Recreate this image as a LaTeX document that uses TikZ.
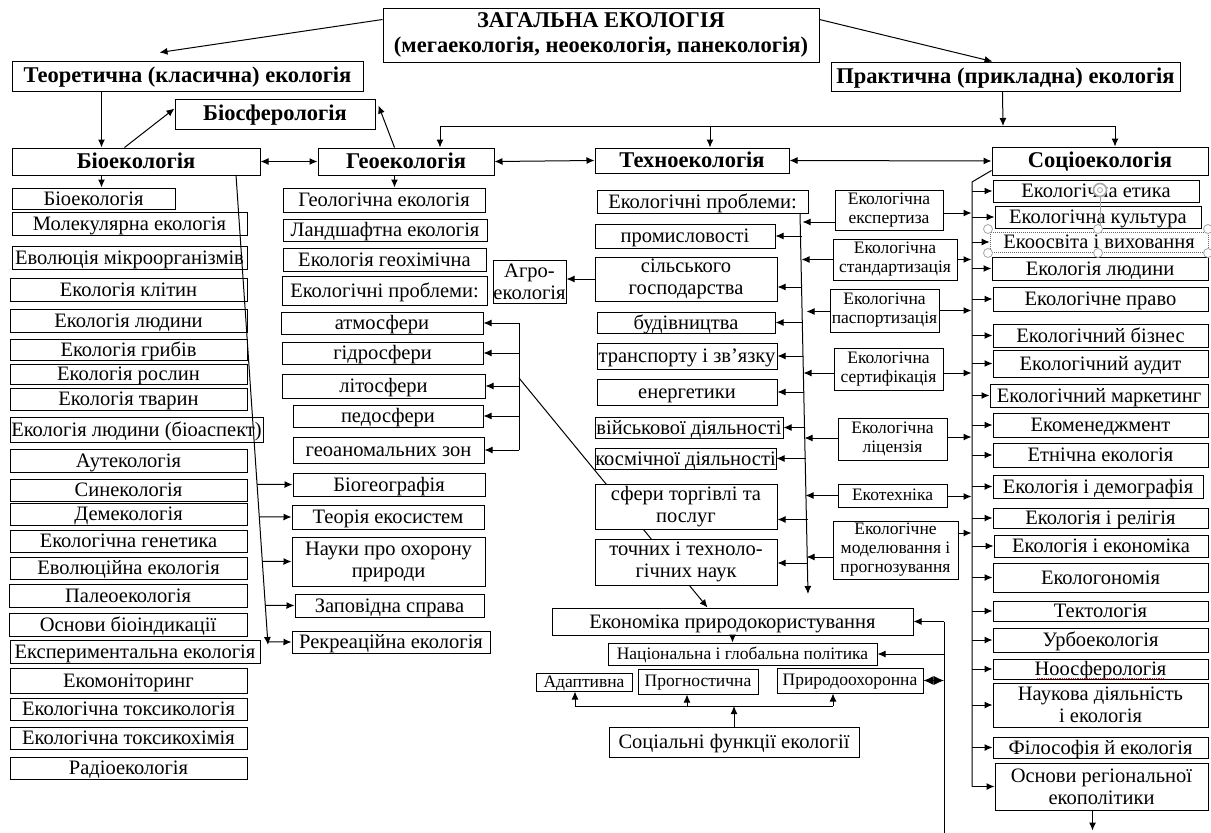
\documentclass[tikz,border=0pt]{standalone}
\usepackage{fontspec}
\setmainfont{Liberation Serif}
\usetikzlibrary{arrows.meta,calc}
\newcommand\mybox[7][]{%
  \pgfmathsetmacro\mbW{#5-#3}\pgfmathsetmacro\mbH{#6-#4}%
  \pgfmathsetmacro\mbX{(#3+#5)/2}\pgfmathsetmacro\mbY{(#4+#6)/2}%
  \node[box,minimum width=\mbW pt,minimum height=\mbH pt,#1] (#2) at (\mbX,\mbY) {#7};}
\begin{document}
\begin{tikzpicture}[x=1pt,y=-1pt,
  box/.style={draw,line width=1pt,fill=white,inner sep=0pt,align=center,font=\fontsize{20.5}{22}\selectfont,text height=16.5pt,text depth=3.5pt},
  ml/.style={text height=,text depth=},
  hd/.style={font=\fontsize{22.5}{25}\selectfont\bfseries,text height=17pt,text depth=3.5pt},
  sm/.style={font=\fontsize{17.5}{19}\selectfont,text height=13.5pt,text depth=3pt},
  ln/.style={line width=1pt},
  arr/.style={ln,-{Latex[length=8pt,width=7pt]}},
  darr/.style={ln,{Latex[length=8pt,width=7pt]}-{Latex[length=8pt,width=7pt]}},
  hnd/.style={draw=gray!70,fill=white,line width=0.8pt}]
\useasboundingbox[fill=white] (0,0) rectangle (1211,833);

\coordinate (dg1) at (519,378);
\coordinate (tvA) at (800,213);
\coordinate (tvB) at (808,594);

% ---- top level
\mybox[hd,ml]{zag}{383}{8}{819}{62}{ЗАГАЛЬНА ЕКОЛОГІЯ\\(мегаекологія, неоекологія, панекологія)}
\mybox[hd]{teor}{12}{61}{363}{91}{Теоретична (класична) екологія}
\mybox[hd]{prak}{831}{62}{1180}{91}{Практична (прикладна) екологія}
\mybox[hd]{biosf}{175}{99}{375}{129}{Біосферологія}
\mybox[hd]{bioek}{12}{148}{260}{175}{Біоекологія}
\mybox[hd]{geoek}{318}{148}{494}{175}{Геоекологія}
\mybox[hd]{tekh}{595}{148}{789}{173}{Техноекологія}
\mybox[hd]{socio}{992}{147}{1208}{175}{Соціоекологія}

\mybox{econ}{552}{608}{913}{635}{Економіка природокористування}
\draw[arr] (dg1) -- ($(econ.north west)+(156,0)$);

% ---- bio column
\mybox{b1}{12}{188}{175}{209}{Біоекологія}
\mybox{b2}{12}{212}{247}{235}{Молекулярна екологія}
\mybox{b3}{12}{246}{247}{269}{Еволюція мікроорганізмів}
\mybox{b4}{10}{278}{247}{301}{Екологія клітин}
\mybox{b5}{10}{309}{247}{332}{Екологія людини}
\mybox{b6}{10}{339}{247}{360}{Екологія грибів}
\mybox{b7}{10}{364}{247}{384}{Екологія рослин}
\mybox{b8}{10}{388}{247}{410}{Екологія тварин}
\mybox{b9}{10}{417}{263}{442}{Екологія людини (біоаспект)}
\mybox{b10}{10}{449}{247}{472}{Аутекологія}
\mybox{b11}{10}{479}{247}{501}{Синекологія}
\mybox{b12}{10}{503}{247}{525}{Демекологія}
\mybox{b13}{10}{530}{247}{552}{Екологічна генетика}
\mybox{b14}{10}{557}{247}{579}{Еволюційна екологія}
\mybox{b15}{9}{584}{247}{607}{Палеоекологія}
\mybox{b16}{9}{613}{247}{636}{Основи біоіндикації}
\mybox{b17}{10}{640}{260}{663}{Експериментальна екологія}
\mybox{b18}{10}{668}{247}{693}{Екомоніторинг}
\mybox{b19}{10}{698}{247}{720}{Екологічна токсикологія}
\mybox{b20}{10}{727}{247}{749}{Екологічна токсикохімія}
\mybox{b21}{10}{757}{247}{779}{Радіоекологія}

% ---- geo column
\mybox{g1}{283}{188}{485}{212}{Геологічна екологія}
\mybox{g2}{283}{219}{487}{241}{Ландшафтна екологія}
\mybox{g3}{283}{248}{486}{271}{Екологія геохімічна}
\mybox{g4}{282}{276}{487}{305}{Екологічні проблеми:}
\mybox{g5}{281}{312}{483}{334}{атмосфери}
\mybox{g6}{282}{342}{483}{364}{гідросфери}
\mybox{g7}{282}{374}{485}{398}{літосфери}
\mybox{g8}{293}{405}{483}{427}{педосфери}
\mybox{g9}{293}{437}{484}{463}{геоаномальних зон}
\mybox{g10}{293}{473}{485}{496}{Біогеографія}
\mybox{g11}{292}{505}{484}{529}{Теорія екосистем}
\mybox[ml]{g12}{292}{537}{485}{586}{Науки про охорону\\природи}
\mybox{g13}{295}{594}{484}{617}{Заповідна справа}
\mybox{g14}{292}{631}{490}{653}{Рекреаційна екологія}
\mybox[ml]{agro}{493}{260}{566}{303}{Агро-\\екологія}

% ---- techno column
\draw[arr] (tvA) -- (tvB);
\mybox{t0}{597}{190}{808}{213}{Екологічні проблеми:}
\mybox{t1}{595}{224}{775}{248}{промисловості}
\mybox[ml]{t2}{595}{257}{777}{301}{сільського\\господарства}
\mybox{t3}{597}{312}{775}{333}{будівництва}
\mybox{t4}{597}{343}{777}{369}{транспорту і зв’язку}
\mybox{t5}{597}{379}{777}{405}{енергетики}
\mybox{t6}{595}{417}{783}{438}{військової діяльності}
\mybox{t7}{595}{448}{776}{469}{космічної діяльності}
\mybox[ml]{t8}{595}{484}{777}{529}{сфери торгівлі та\\послуг}
\mybox[ml]{t9}{595}{539}{777}{585}{точних і техноло-\\гічних наук}

\mybox[sm,ml]{e1}{835}{190}{943}{230}{Екологічна\\експертиза}
\mybox[sm,ml]{e2}{833}{239}{957}{280}{Екологічна\\стандартизація}
\mybox[sm,ml]{e3}{830}{289}{939}{332}{Екологічна\\паспортизація}
\mybox[sm,ml]{e4}{834}{348}{943}{390}{Екологічна\\сертифікація}
\mybox[sm,ml]{e5}{838}{418}{947}{460}{Екологічна\\ліцензія}
\mybox[sm]{e6}{838}{484}{947}{507}{Екотехніка}
\mybox[sm,ml]{e7}{833}{521}{958}{579}{Екологічне\\моделювання і\\прогнозування}

\mybox[sm]{nat}{608}{643}{877}{665}{Національна і глобальна політика}
\mybox[sm]{adapt}{536}{673}{632}{691}{Адаптивна}
\mybox[sm]{progn}{638}{669}{758}{694}{Прогностична}
\mybox[sm]{prir}{777}{668}{923}{693}{Природоохоронна}
\mybox{socf}{609}{727}{859}{757}{Соціальні функції екології}

% ---- socio column
\mybox{s1}{993}{180}{1199}{202}{Екологічна етика}
\mybox{s2}{995}{206}{1201}{228}{Екологічна культура}
\mybox[draw=gray!80!black,densely dotted,line width=0.7pt]{s3}{990}{232}{1208}{252}{Екоосвіта і виховання}
\mybox{s4}{992}{257}{1208}{280}{Екологія людини}
\mybox{s5}{993}{287}{1208}{311}{Екологічне право}
\mybox{s6}{993}{324}{1208}{347}{Екологічний бізнес}
\mybox{s7}{993}{350}{1208}{377}{Екологічний аудит}
\mybox{s8}{990}{384}{1208}{407}{Екологічний маркетинг}
\mybox{s9}{993}{413}{1208}{437}{Екоменеджмент}
\mybox{s10}{993}{443}{1208}{467}{Етнічна екологія}
\mybox{s11}{993}{475}{1203}{498}{Екологія і демографія}
\mybox{s12}{993}{508}{1208}{528}{Екологія і релігія}
\mybox{s13}{994}{535}{1208}{557}{Екологія і економіка}
\mybox{s14}{993}{563}{1208}{592}{Екологономія}
\mybox{s15}{993}{602}{1208}{620}{Тектологія}
\mybox{s16}{993}{628}{1208}{652}{Урбоекологія}
\mybox{s17}{993}{660}{1208}{678}{Ноосферологія}
\mybox[ml]{s18}{993}{683}{1208}{727}{Наукова діяльність\\і екологія}
\mybox{s19}{993}{737}{1208}{758}{Філософія й екологія}
\mybox[ml]{s20}{995}{763}{1208}{810}{Основи регіональної\\екополітики}

% ---- top connectors
\draw[arr] ($(zag.north west)+(0,12)$) -- ($(teor.north west)+(148,-8)$);
\draw[arr] ($(zag.north east)+(0,12)$) -- ($(prak.north west)+(162,0)$);
\draw[arr] ($(teor.south west)+(90,0)$) -- ($(bioek.north west)+(90,0)$);
\draw[arr] ($(bioek.north west)+(113,0)$) -- ($(biosf.south west)+(0,-21)$);
\draw[arr] ($(geoek.north west)+(77,0)$) -- ($(biosf.north east)+(3,7)$);
\draw[darr] (bioek.east) -- (geoek.west);
\draw[darr] (geoek.east) -- (tekh.west);
\draw[darr] (tekh.east) -- (socio.west);
\coordinate (bus) at (1003,126);
\coordinate (busL) at (440,126);
\coordinate (busM) at (710,126);
\coordinate (busR) at (1115,126);
\draw[arr] ($(prak.south west)+(172,0)$) -- (bus);
\draw[ln] (busL) -- (busR);
\draw[arr] (busL) -- (busL |- geoek.north);
\draw[arr] (busM) -- (busM |- tekh.north);
\draw[arr] (busR) -- (busR |- socio.north);

% ---- bio connectors
\draw[arr] ($(bioek.south west)+(90,0)$) -- ($(b1.north west)+(90,0)$);
\coordinate (dA) at (236,175);
\coordinate (dB) at (268,645);
\draw[arr] (dA) -- (dB);
\foreach \g in {g10,g11,g12,g13,g14}
  \draw[arr] (intersection of dA--dB and \g.west--\g.east) -- (\g.west);

% ---- geo connectors
\draw[arr] ($(geoek.south west)+(77,0)$) -- ($(g1.north west)+(112,0)$);
\coordinate (sv) at (519,0);
\draw[ln] (sv |- g5.east) -- (sv |- g9.east);
\foreach \g in {g5,g6,g7,g8,g9}
  \draw[arr] (sv |- \g.east) -- (\g.east);
\draw[arr] (t2.west) -- (t2.west -| agro.east);

% ---- techno connectors
\draw[arr] ($(t1.east)+(26,0)$) -- (t1.east);
\draw[arr] ($(t2.east)+(24,8)$) -- ($(t2.east)+(0,8)$);
\draw[arr] ($(t3.east)+(27,0)$) -- (t3.east);
\draw[arr] ($(t4.east)+(25,0)$) -- (t4.east);
\draw[arr] ($(t5.east)+(26,0)$) -- (t5.east);
\draw[arr] ($(t6.east)+(21,0)$) -- (t6.east);
\draw[arr] ($(t7.east)+(29,0)$) -- (t7.east);
\draw[arr] ($(t8.east)+(30,13)$) -- ($(t8.east)+(0,13)$);
\draw[arr] ($(t9.east)+(30,1)$) -- ($(t9.east)+(0,1)$);

\draw[arr] ($(e1.west)+(0,12)$) -- ($(e1.west)+(-32,12)$);
\draw[arr] (e2.west) -- ($(e2.west)+(-31,0)$);
\draw[arr] ($(e3.west)+(0,1)$) -- ($(e3.west)+(-23,1)$);
\draw[arr] ($(e4.west)+(0,4)$) -- ($(e4.west)+(-30,4)$);
\draw[arr] ($(e5.west)+(0,-1)$) -- ($(e5.west)+(-33,-1)$);
\draw[arr] (e6.west) -- ($(e6.west)+(-32,0)$);
\draw[arr] ($(e7.west)+(0,7)$) -- ($(e7.west)+(-26,7)$);

\draw[arr] ($(e1.east)+(0,3)$) -- ($(e1.east)+(28,3)$);
\draw[arr] (e2.east) -- ($(e2.east)+(14,0)$);
\draw[arr] (e3.east) -- ($(e3.east)+(32,0)$);
\draw[arr] ($(e4.east)+(0,4)$) -- ($(e4.east)+(28,4)$);
\draw[arr] ($(e5.east)+(0,-2)$) -- ($(e5.east)+(24,-2)$);
\draw[arr] ($(e6.east)+(0,1)$) -- ($(e6.east)+(24,1)$);
\draw[arr] ($(e7.east)+(0,-17)$) -- ($(e7.east)+(13,-17)$);

% ---- socio connectors
\coordinate (sc) at (972,182);
\draw[ln] ($(socio.south west)+(0,-5)$) -- (sc) -- (sc |- s20.west);
\foreach \s in {s1,s2,s3,s4,s5,s6,s7,s8,s9,s10,s11,s12,s13,s14,s15,s16,s17,s18,s19,s20}
  \draw[arr] (sc |- \s.west) -- (\s.west);
\coordinate (sd) at ($(s20.south west)+(98,20)$);
\draw[arr] ($(s20.south west)+(98,0)$) -- (sd);

% ---- economics and functions
\draw[arr] ($(econ.south west)+(181,0)$) -- ($(nat.north west)+(125,0)$);
\coordinate (rv) at (944,833);
\draw[ln] (rv |- econ.east) -- (rv);
\draw[arr] (rv |- econ.east) -- (econ.east);
\draw[arr] (rv |- nat.east) -- (nat.east);
\draw[ln,{Latex[length=10pt,width=9pt]}-{Latex[length=10pt,width=9pt]}] (prir.east) -- (rv |- prir.east);
\coordinate (fL) at (575,706);
\coordinate (fM) at (687,706);
\coordinate (fR) at (833,706);
\draw[ln] (fL) -- (fR);
\draw[arr] (socf.north) -- (socf.north |- fL);
\draw[arr] (fL) -- (fL |- adapt.south);
\draw[arr] (fM) -- (fM |- progn.south);
\draw[arr] (fR) -- (fR |- prir.south);

% ---- editor selection handles
\draw[gray!70,line width=0.8pt] (1100,196) -- (1100,228);
\foreach \p in {(988,229),(1098,229),(1208,229),(988,253),(1098,253),(1208,253)}
  \draw[hnd] \p circle[radius=4.5pt];
\draw[hnd,line width=1.6pt] (1100,190) circle[radius=6.5pt];
\draw[gray!70,line width=0.8pt] (1100,190) circle[radius=2.5pt];
\draw[red,densely dotted,line width=0.8pt] (1037,678) -- (1164,678);
\end{tikzpicture}
\end{document}
